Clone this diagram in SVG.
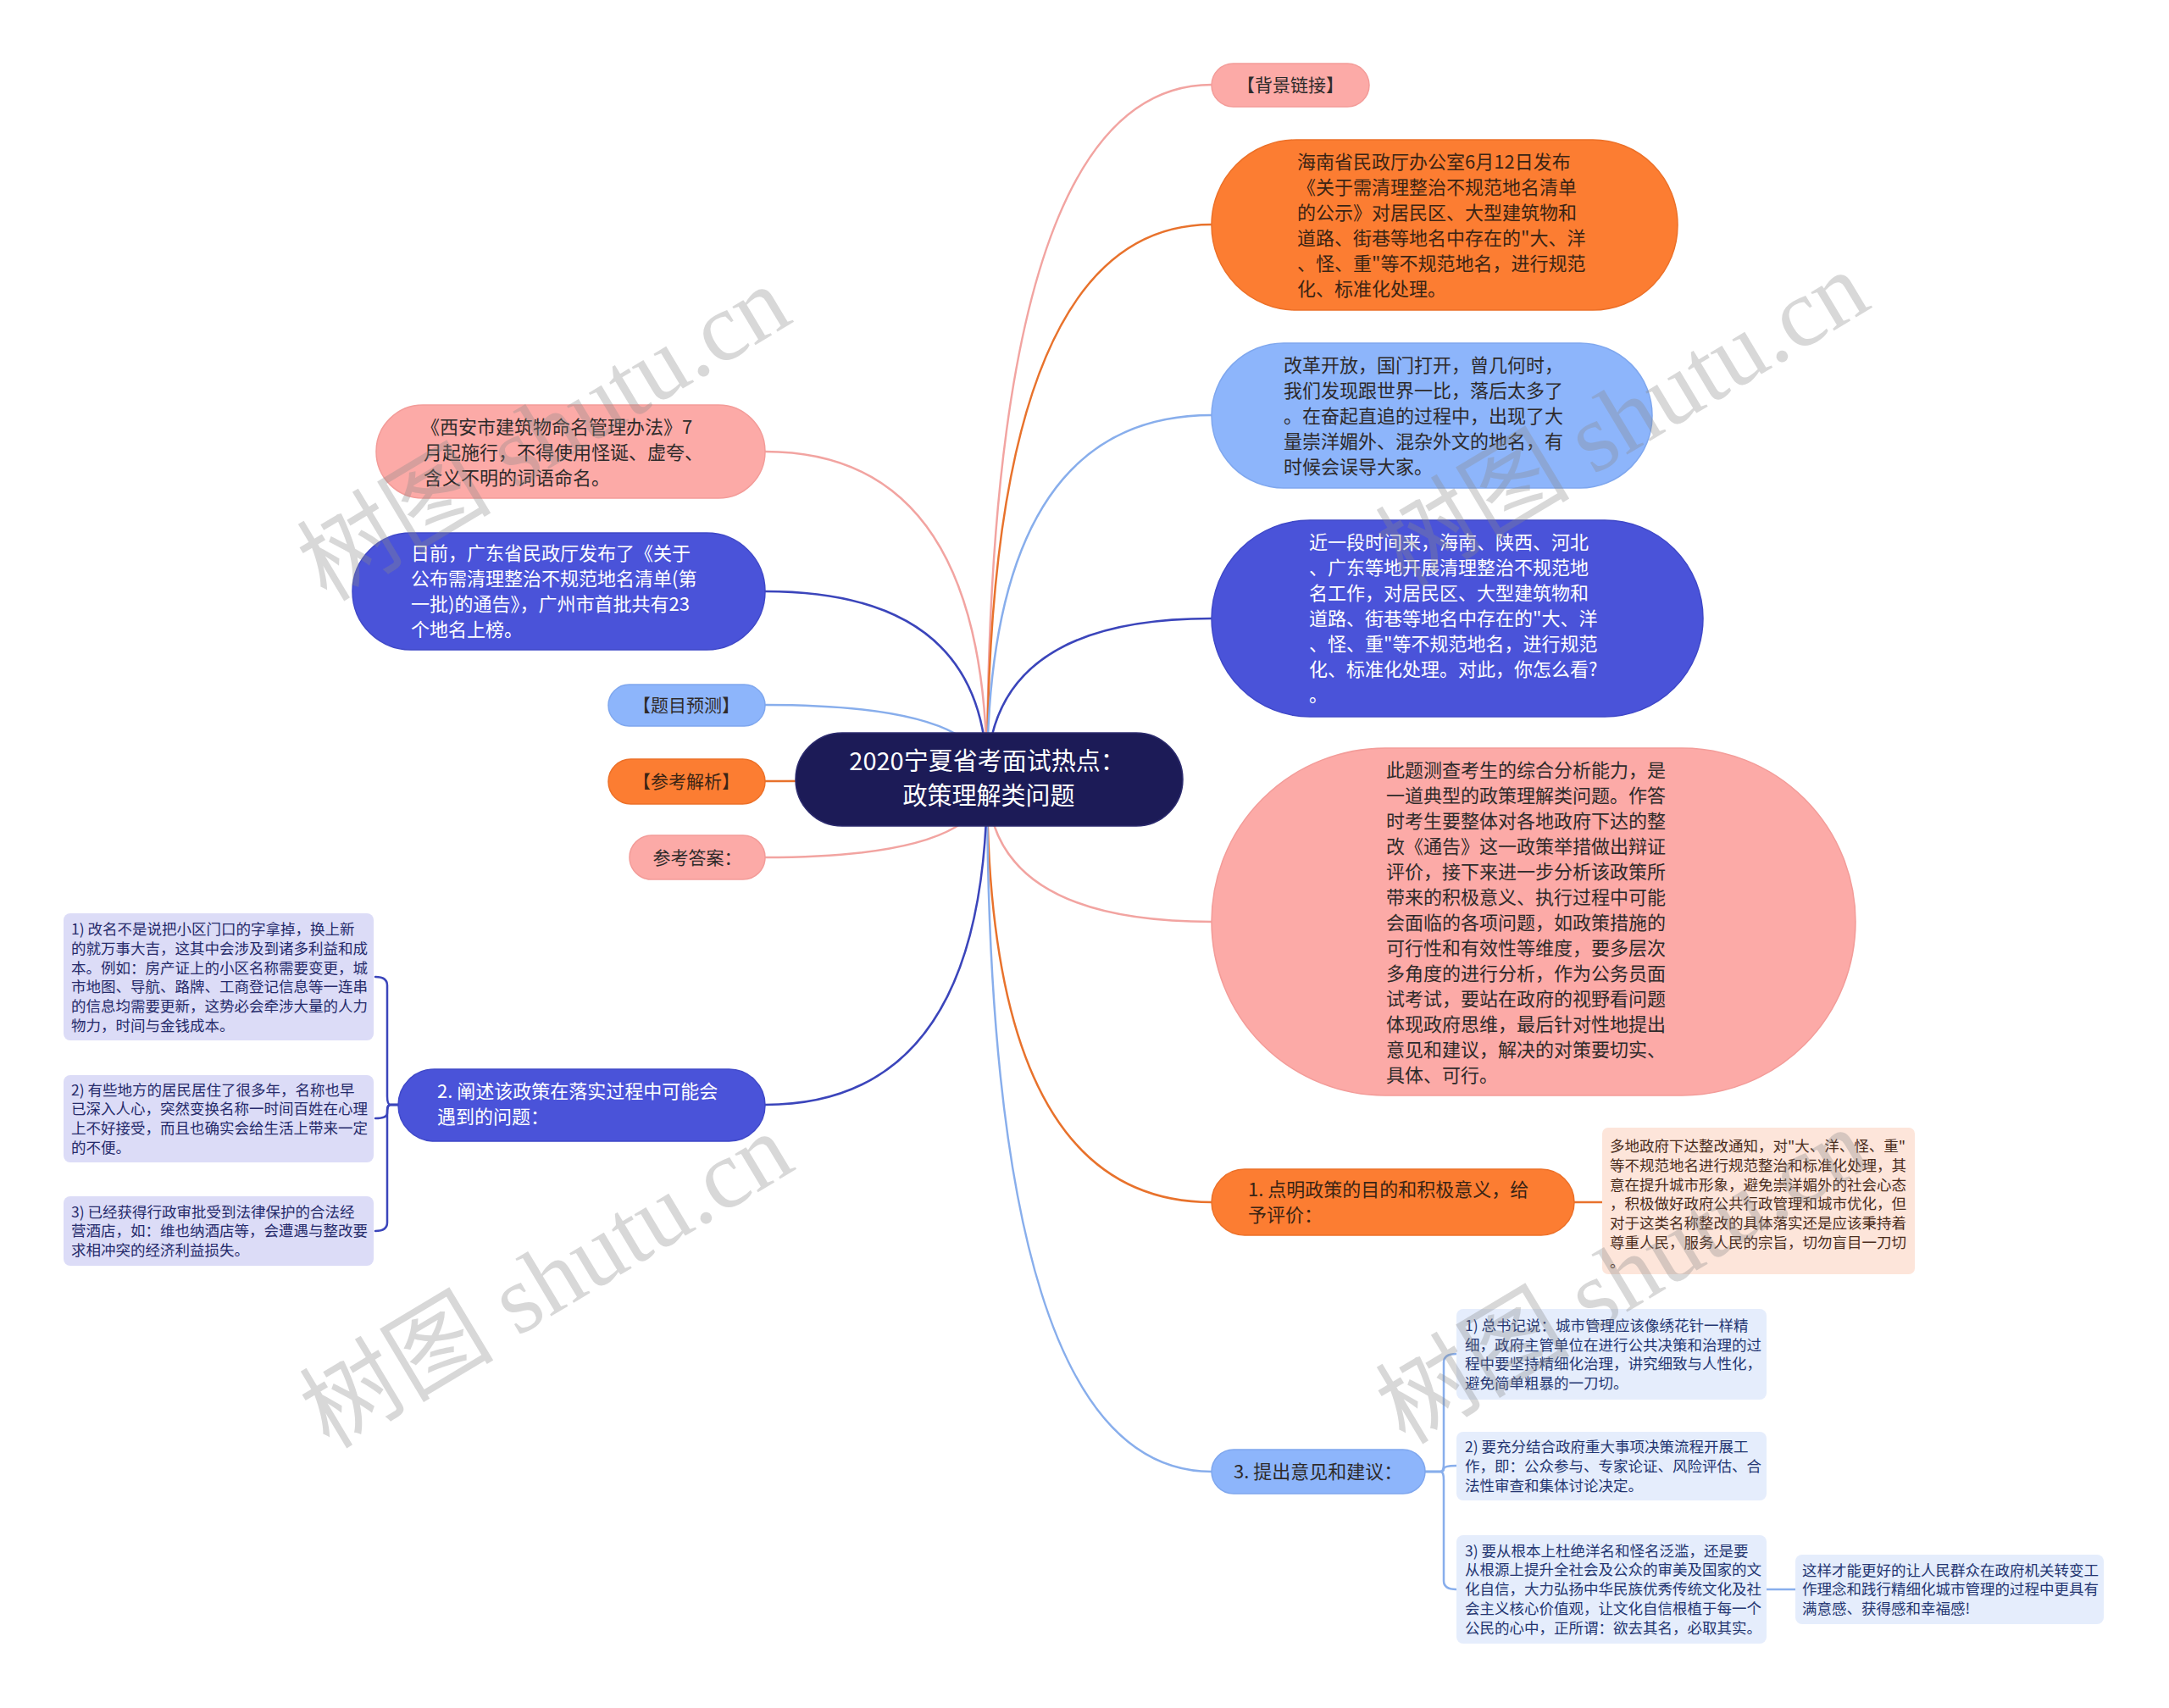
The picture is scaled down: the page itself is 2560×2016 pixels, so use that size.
<svg xmlns="http://www.w3.org/2000/svg" width="2560" height="2016" viewBox="0 0 2560 2016">
<style>
.t{font-family:"Noto Sans CJK SC","Liberation Sans",sans-serif;}
.f22{font-size:22px;}
.f21{font-size:21px;}
.f17{font-size:17.5px;}
.dk{fill:#2e2a2a;}
.dko{fill:#3a2414;}
.wh{fill:#ffffff;}
.nv{fill:#262b6b;}
.nb{fill:#243672;}
.pb{fill:#4a2c1c;}
.c{fill:none;stroke-width:2.5;stroke-linecap:round;}
.cp{stroke:#f2a4a1;}
.co{stroke:#e8722c;}
.cl{stroke:#88aeec;}
.cb{stroke:#3b45bb;}
.pink{fill:#fcaaa7;stroke:#f39c99;stroke-width:1.5;}
.orange{fill:#fc7d32;stroke:#ec7028;stroke-width:1.5;}
.lblue{fill:#8db5fb;stroke:#7fa7ee;stroke-width:1.5;}
.blue{fill:#4a53d9;stroke:#3f48c8;stroke-width:1.5;}
.lav{fill:#dcdcf7;}
.peach{fill:#fde5da;}
.ice{fill:#e5edfc;}
.wm{font-size:115px;fill:#8a8a8a;opacity:0.33;}
.wc{font-family:"Noto Sans CJK SC",sans-serif;}
.ws{font-family:"Liberation Serif",serif;}
</style>
<rect x="0" y="0" width="2560" height="2016" fill="#ffffff"/>
<g id="connectors">
<path class="c cp" d="M1165 920 Q1165 100 1430 100"/>
<path class="c co" d="M1165 920 Q1165 265 1430 265"/>
<path class="c cl" d="M1165 920 Q1165 490 1430 490"/>
<path class="c cb" d="M1165 920 Q1165 730 1430 730"/>
<path class="c cp" d="M1165 920 Q1165 1088 1430 1088"/>
<path class="c co" d="M1165 920 Q1165 1419 1430 1419"/>
<path class="c cl" d="M1165 920 Q1165 1737 1430 1737"/>
<path class="c cp" d="M1165 920 Q1165 533 903 533"/>
<path class="c cb" d="M1165 920 Q1165 698 903 698"/>
<path class="c cl" d="M1165 920 Q1165 832 903 832"/>
<path class="c co" d="M1165 920 Q1165 922 903 922"/>
<path class="c cp" d="M1165 920 Q1165 1012 903 1012"/>
<path class="c cb" d="M1165 920 Q1165 1304 903 1304"/>
<path class="c cb" d="M470 1304 L461 1304 Q457 1304 457 1294 L457 1163 Q457 1153 443 1153"/>
<path class="c cb" d="M470 1304 L461 1304 Q457 1304 457 1310 L457 1314 Q457 1320 443 1320"/>
<path class="c cb" d="M470 1304 L461 1304 Q457 1304 457 1314 L457 1443 Q457 1453 443 1453"/>
<path class="c cl" d="M1682 1737 L1700 1737 Q1704 1737 1704 1727 L1704 1608 Q1704 1598 1719 1598"/>
<path class="c cl" d="M1682 1737 L1700 1737 Q1704 1737 1704 1734 Q1704 1730 1719 1730"/>
<path class="c cl" d="M1682 1737 L1700 1737 Q1704 1737 1704 1747 L1704 1866 Q1704 1876 1719 1876"/>
<path class="c cl" d="M2085 1876 L2119 1876"/>
<path class="c co" d="M1858 1419 L1891 1419"/>
</g>
<g id="center">
<rect x="939" y="865" width="457" height="110" rx="55" fill="#1c1b57" stroke="#2c2b6e" stroke-width="1.5"/>
<text class="t wh" font-size="29" text-anchor="middle"><tspan x="1165" y="909">2020宁夏省考面试热点：</tspan><tspan x="1167" y="950">政策理解类问题</tspan></text>
</g>
<g id="n-bg">
<rect class="pink" x="1430" y="75" width="186" height="51" rx="25.5"/>
<text class="t f21 dk" x="1523" y="108" text-anchor="middle">【背景链接】</text>
</g>
<g id="n-hainan">
<rect class="orange" x="1430" y="165" width="550" height="201" rx="100"/>
<text class="t f22 dko"><tspan x="1531" y="199">海南省民政厅办公室6月12日发布</tspan><tspan x="1531" y="229">《关于需清理整治不规范地名清单</tspan><tspan x="1531" y="259">的公示》对居民区、大型建筑物和</tspan><tspan x="1531" y="289">道路、街巷等地名中存在的"大、洋</tspan><tspan x="1531" y="319">、怪、重"等不规范地名，进行规范</tspan><tspan x="1531" y="349">化、标准化处理。</tspan></text>
</g>
<g id="n-gaige">
<rect class="lblue" x="1430" y="405" width="520" height="171" rx="85"/>
<text class="t f22 dk"><tspan x="1515" y="439">改革开放，国门打开，曾几何时，</tspan><tspan x="1515" y="469">我们发现跟世界一比，落后太多了</tspan><tspan x="1515" y="499">。在奋起直追的过程中，出现了大</tspan><tspan x="1515" y="529">量崇洋媚外、混杂外文的地名，有</tspan><tspan x="1515" y="559">时候会误导大家。</tspan></text>
</g>
<g id="n-jin">
<rect class="blue" x="1430" y="614" width="580" height="232" rx="116"/>
<text class="t f22 wh"><tspan x="1545" y="648">近一段时间来，海南、陕西、河北</tspan><tspan x="1545" y="678">、广东等地开展清理整治不规范地</tspan><tspan x="1545" y="708">名工作，对居民区、大型建筑物和</tspan><tspan x="1545" y="738">道路、街巷等地名中存在的"大、洋</tspan><tspan x="1545" y="768">、怪、重"等不规范地名，进行规范</tspan><tspan x="1545" y="798">化、标准化处理。对此，你怎么看?</tspan><tspan x="1545" y="828">。</tspan></text>
</g>
<g id="n-citi">
<rect class="pink" x="1430" y="883" width="760" height="410" rx="205"/>
<text class="t f22 dk"><tspan x="1636" y="917">此题测查考生的综合分析能力，是</tspan><tspan x="1636" y="947">一道典型的政策理解类问题。作答</tspan><tspan x="1636" y="977">时考生要整体对各地政府下达的整</tspan><tspan x="1636" y="1007">改《通告》这一政策举措做出辩证</tspan><tspan x="1636" y="1037">评价，接下来进一步分析该政策所</tspan><tspan x="1636" y="1067">带来的积极意义、执行过程中可能</tspan><tspan x="1636" y="1097">会面临的各项问题，如政策措施的</tspan><tspan x="1636" y="1127">可行性和有效性等维度，要多层次</tspan><tspan x="1636" y="1157">多角度的进行分析，作为公务员面</tspan><tspan x="1636" y="1187">试考试，要站在政府的视野看问题</tspan><tspan x="1636" y="1217">体现政府思维，最后针对性地提出</tspan><tspan x="1636" y="1247">意见和建议，解决的对策要切实、</tspan><tspan x="1636" y="1277">具体、可行。</tspan></text>
</g>
<g id="n-one">
<rect class="orange" x="1430" y="1380" width="428" height="78" rx="39"/>
<text class="t f22 dko"><tspan x="1473" y="1412">1. 点明政策的目的和积极意义，给</tspan><tspan x="1473" y="1442">予评价：</tspan></text>
</g>
<g id="n-one-detail">
<rect class="peach" x="1891" y="1331" width="369" height="173" rx="7"/>
<text class="t f17 pb"><tspan x="1900" y="1359">多地政府下达整改通知，对"大、洋、怪、重"</tspan><tspan x="1900" y="1382">等不规范地名进行规范整治和标准化处理，其</tspan><tspan x="1900" y="1405">意在提升城市形象，避免崇洋媚外的社会心态</tspan><tspan x="1900" y="1427">，积极做好政府公共行政管理和城市优化，但</tspan><tspan x="1900" y="1450">对于这类名称整改的具体落实还是应该秉持着</tspan><tspan x="1900" y="1473">尊重人民，服务人民的宗旨，切勿盲目一刀切</tspan><tspan x="1900" y="1496">。</tspan></text>
</g>
<g id="n-three">
<rect class="lblue" x="1430" y="1711" width="252" height="52" rx="26"/>
<text class="t f22 dk" x="1456" y="1745">3. 提出意见和建议：</text>
</g>
<g id="n-three-1">
<rect class="ice" x="1719" y="1545" width="366" height="107" rx="8"/>
<text class="t f17 nb"><tspan x="1729" y="1571">1) 总书记说：城市管理应该像绣花针一样精</tspan><tspan x="1729" y="1594">细，政府主管单位在进行公共决策和治理的过</tspan><tspan x="1729" y="1616">程中要坚持精细化治理，讲究细致与人性化，</tspan><tspan x="1729" y="1639">避免简单粗暴的一刀切。</tspan></text>
</g>
<g id="n-three-2">
<rect class="ice" x="1719" y="1690" width="366" height="81" rx="8"/>
<text class="t f17 nb"><tspan x="1729" y="1714">2) 要充分结合政府重大事项决策流程开展工</tspan><tspan x="1729" y="1737">作，即：公众参与、专家论证、风险评估、合</tspan><tspan x="1729" y="1760">法性审查和集体讨论决定。</tspan></text>
</g>
<g id="n-three-3">
<rect class="ice" x="1719" y="1812" width="366" height="128" rx="8"/>
<text class="t f17 nb"><tspan x="1729" y="1837">3) 要从根本上杜绝洋名和怪名泛滥，还是要</tspan><tspan x="1729" y="1859">从根源上提升全社会及公众的审美及国家的文</tspan><tspan x="1729" y="1882">化自信，大力弘扬中华民族优秀传统文化及社</tspan><tspan x="1729" y="1905">会主义核心价值观，让文化自信根植于每一个</tspan><tspan x="1729" y="1928">公民的心中，正所谓：欲去其名，必取其实。</tspan></text>
</g>
<g id="n-three-3-1">
<rect class="ice" x="2119" y="1835" width="364" height="82" rx="8"/>
<text class="t f17 nb"><tspan x="2127" y="1860">这样才能更好的让人民群众在政府机关转变工</tspan><tspan x="2127" y="1882">作理念和践行精细化城市管理的过程中更具有</tspan><tspan x="2127" y="1905">满意感、获得感和幸福感!</tspan></text>
</g>
<g id="n-xian">
<rect class="pink" x="444" y="478" width="459" height="110" rx="55"/>
<text class="t f22 dk"><tspan x="497" y="512">《西安市建筑物命名管理办法》7</tspan><tspan x="500" y="542">月起施行，不得使用怪诞、虚夸、</tspan><tspan x="500" y="572">含义不明的词语命名。</tspan></text>
</g>
<g id="n-guangdong">
<rect class="blue" x="416" y="629" width="487" height="138" rx="69"/>
<text class="t f22 wh"><tspan x="485" y="661">日前，广东省民政厅发布了《关于</tspan><tspan x="485" y="691">公布需清理整治不规范地名清单(第</tspan><tspan x="485" y="721">一批)的通告》，广州市首批共有23</tspan><tspan x="485" y="751">个地名上榜。</tspan></text>
</g>
<g id="n-yuce">
<rect class="lblue" x="718" y="808" width="185" height="49" rx="24.5"/>
<text class="t f21 dk" x="810" y="840" text-anchor="middle">【题目预测】</text>
</g>
<g id="n-jiexi">
<rect class="orange" x="718" y="896" width="185" height="53" rx="26.5"/>
<text class="t f21 dko" x="810" y="930" text-anchor="middle">【参考解析】</text>
</g>
<g id="n-daan">
<rect class="pink" x="743" y="986" width="160" height="52" rx="26"/>
<text class="t f21 dk" x="823" y="1020" text-anchor="middle">参考答案：</text>
</g>
<g id="n-two">
<rect class="blue" x="470" y="1262" width="433" height="85" rx="42.5"/>
<text class="t f22 wh"><tspan x="516" y="1296">2. 阐述该政策在落实过程中可能会</tspan><tspan x="516" y="1326">遇到的问题：</tspan></text>
</g>
<g id="n-two-1">
<rect class="lav" x="75" y="1078" width="366" height="150" rx="8"/>
<text class="t f17 nv"><tspan x="84" y="1103">1) 改名不是说把小区门口的字拿掉，换上新</tspan><tspan x="84" y="1126">的就万事大吉，这其中会涉及到诸多利益和成</tspan><tspan x="84" y="1149">本。例如：房产证上的小区名称需要变更，城</tspan><tspan x="84" y="1171">市地图、导航、路牌、工商登记信息等一连串</tspan><tspan x="84" y="1194">的信息均需要更新，这势必会牵涉大量的人力</tspan><tspan x="84" y="1217">物力，时间与金钱成本。</tspan></text>
</g>
<g id="n-two-2">
<rect class="lav" x="75" y="1269" width="366" height="103" rx="8"/>
<text class="t f17 nv"><tspan x="84" y="1293">2) 有些地方的居民居住了很多年，名称也早</tspan><tspan x="84" y="1315">已深入人心，突然变换名称一时间百姓在心理</tspan><tspan x="84" y="1338">上不好接受，而且也确实会给生活上带来一定</tspan><tspan x="84" y="1361">的不便。</tspan></text>
</g>
<g id="n-two-3">
<rect class="lav" x="75" y="1412" width="366" height="82" rx="8"/>
<text class="t f17 nv"><tspan x="84" y="1437">3) 已经获得行政审批受到法律保护的合法经</tspan><tspan x="84" y="1459">营酒店，如：维也纳酒店等，会遭遇与整改要</tspan><tspan x="84" y="1482">求相冲突的经济利益损失。</tspan></text>
</g>
<g id="watermarks">
<text class="wm" text-anchor="middle" transform="translate(662,545) rotate(-31)"><tspan class="wc">树图</tspan><tspan class="ws"> shutu.cn</tspan></text>
<text class="wm" text-anchor="middle" transform="translate(665,1545) rotate(-31)"><tspan class="wc">树图</tspan><tspan class="ws"> shutu.cn</tspan></text>
<text class="wm" text-anchor="middle" transform="translate(1935,528) rotate(-31)"><tspan class="wc">树图</tspan><tspan class="ws"> shutu.cn</tspan></text>
<text class="wm" text-anchor="middle" transform="translate(1935,1540) rotate(-31)"><tspan class="wc">树图</tspan><tspan class="ws"> shutu.cn</tspan></text>
</g>
</svg>
